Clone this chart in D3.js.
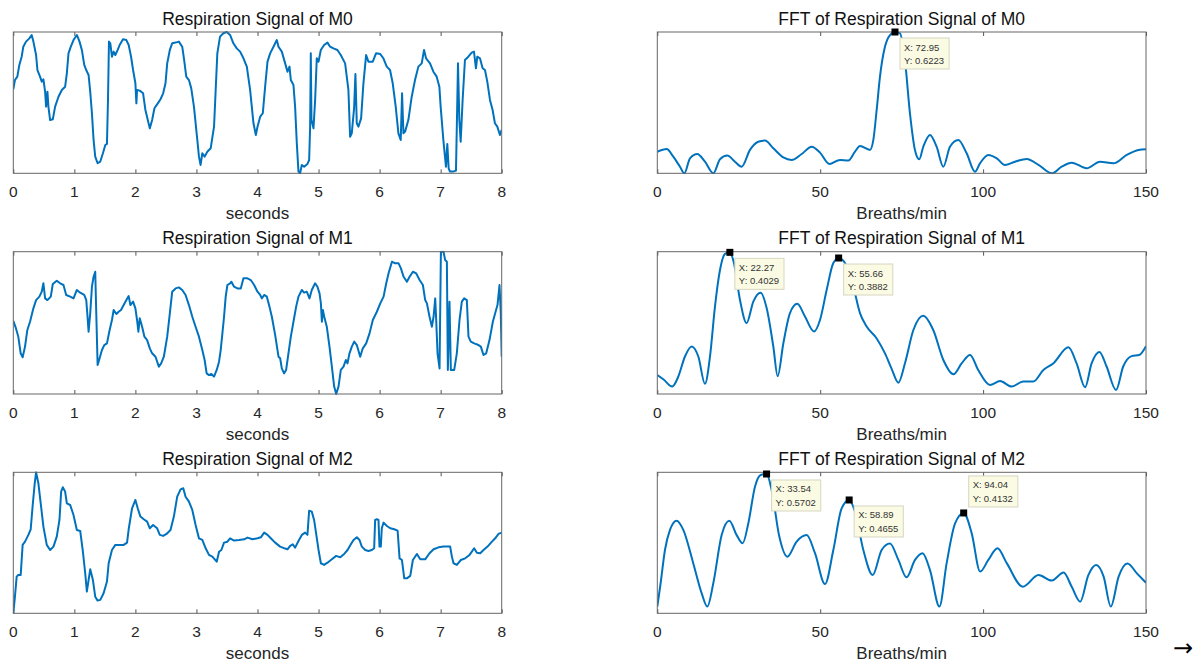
<!DOCTYPE html>
<html>
<head>
<meta charset="utf-8">
<script src="https://cdn.jsdelivr.net/npm/d3@7"></script>
<style>
body { margin: 0; background: #fff; }
text { font-family: "Liberation Sans", Arial, sans-serif; }
</style>
</head>
<body>
<script>
// respiration signals, [seconds, normalised amplitude]
const m0Signal = [[0,0.594],[0.027,0.66],[0.066,0.684],[0.099,0.767],[0.137,0.825],[0.164,0.896],[0.208,0.932],[0.263,0.955],[0.301,0.979],[0.329,0.932],[0.373,0.837],[0.395,0.731],[0.438,0.684],[0.466,0.649],[0.493,0.665],[0.521,0.578],[0.537,0.472],[0.559,0.578],[0.575,0.472],[0.603,0.377],[0.647,0.382],[0.685,0.472],[0.74,0.542],[0.795,0.59],[0.849,0.613],[0.877,0.708],[0.904,0.849],[0.942,0.896],[0.986,0.943],[1.041,0.979],[1.085,0.932],[1.123,0.873],[1.162,0.767],[1.194,0.731],[1.233,0.696],[1.26,0.578],[1.288,0.425],[1.315,0.236],[1.342,0.118],[1.381,0.071],[1.425,0.083],[1.468,0.142],[1.507,0.2],[1.534,0.208],[1.551,0.519],[1.567,0.932],[1.589,0.92],[1.616,0.825],[1.644,0.861],[1.671,0.837],[1.71,0.873],[1.742,0.908],[1.797,0.948],[1.852,0.943],[1.89,0.908],[1.929,0.825],[1.962,0.731],[2.0,0.637],[2.016,0.495],[2.027,0.59],[2.071,0.585],[2.126,0.566],[2.164,0.448],[2.203,0.377],[2.236,0.318],[2.274,0.377],[2.312,0.46],[2.367,0.495],[2.411,0.524],[2.455,0.566],[2.493,0.637],[2.521,0.778],[2.564,0.873],[2.603,0.92],[2.658,0.925],[2.712,0.932],[2.767,0.896],[2.795,0.814],[2.833,0.684],[2.877,0.66],[2.915,0.601],[2.959,0.472],[3.014,0.236],[3.041,0.118],[3.068,0.059],[3.096,0.142],[3.134,0.118],[3.178,0.153],[3.233,0.177],[3.288,0.33],[3.315,0.59],[3.342,0.849],[3.386,0.967],[3.441,0.991],[3.496,1.0],[3.551,0.979],[3.605,0.92],[3.66,0.884],[3.715,0.861],[3.77,0.814],[3.825,0.755],[3.879,0.59],[3.934,0.354],[3.973,0.271],[4.0,0.33],[4.044,0.401],[4.087,0.425],[4.125,0.613],[4.164,0.79],[4.207,0.849],[4.262,0.896],[4.316,0.943],[4.344,0.896],[4.398,0.861],[4.453,0.778],[4.491,0.719],[4.524,0.755],[4.546,0.66],[4.589,0.625],[4.616,0.472],[4.644,0.212],[4.671,0.012],[4.698,0.0],[4.726,0.059],[4.764,0.047],[4.818,0.066],[4.846,0.094],[4.862,0.33],[4.873,0.849],[4.884,0.377],[4.917,0.318],[4.944,0.519],[4.971,0.814],[5.0,0.79],[5.037,0.873],[5.091,0.908],[5.146,0.925],[5.189,0.896],[5.244,0.884],[5.309,0.873],[5.364,0.837],[5.435,0.778],[5.489,0.59],[5.517,0.259],[5.544,0.283],[5.582,0.46],[5.604,0.703],[5.626,0.354],[5.653,0.33],[5.697,0.389],[5.735,0.637],[5.779,0.837],[5.817,0.79],[5.888,0.79],[5.942,0.849],[6.011,0.844],[6.062,0.814],[6.117,0.755],[6.171,0.731],[6.215,0.637],[6.264,0.472],[6.308,0.283],[6.346,0.236],[6.368,0.566],[6.39,0.283],[6.417,0.295],[6.471,0.377],[6.526,0.542],[6.58,0.66],[6.635,0.755],[6.69,0.778],[6.728,0.873],[6.761,0.814],[6.826,0.778],[6.881,0.719],[6.935,0.684],[6.979,0.613],[7.0,0.472],[7.044,0.236],[7.087,0.047],[7.109,0.208],[7.131,0.035],[7.153,0.012],[7.207,0.012],[7.251,0.019],[7.273,0.519],[7.284,0.778],[7.306,0.377],[7.328,0.224],[7.36,0.519],[7.398,0.802],[7.453,0.825],[7.508,0.854],[7.546,0.861],[7.578,0.743],[7.6,0.825],[7.644,0.814],[7.688,0.743],[7.726,0.731],[7.764,0.649],[7.808,0.519],[7.851,0.448],[7.889,0.354],[7.928,0.33],[7.971,0.271],[8.0,0.307]];

const m1Signal = [[0,0.515],[0.044,0.461],[0.082,0.403],[0.121,0.286],[0.153,0.258],[0.192,0.333],[0.23,0.45],[0.274,0.508],[0.329,0.602],[0.373,0.66],[0.427,0.684],[0.466,0.719],[0.493,0.778],[0.521,0.672],[0.559,0.66],[0.614,0.684],[0.647,0.773],[0.712,0.796],[0.767,0.778],[0.822,0.766],[0.866,0.696],[0.932,0.684],[0.986,0.672],[1.041,0.731],[1.096,0.712],[1.162,0.696],[1.195,0.66],[1.216,0.543],[1.233,0.438],[1.26,0.567],[1.288,0.754],[1.315,0.824],[1.342,0.859],[1.359,0.567],[1.381,0.204],[1.414,0.251],[1.452,0.309],[1.49,0.344],[1.534,0.356],[1.578,0.45],[1.616,0.52],[1.644,0.59],[1.688,0.562],[1.726,0.578],[1.764,0.59],[1.808,0.625],[1.852,0.66],[1.89,0.688],[1.918,0.625],[1.962,0.649],[2.0,0.602],[2.027,0.52],[2.049,0.438],[2.071,0.532],[2.11,0.473],[2.148,0.403],[2.192,0.379],[2.236,0.321],[2.274,0.286],[2.329,0.262],[2.384,0.192],[2.422,0.215],[2.466,0.262],[2.521,0.403],[2.564,0.567],[2.603,0.719],[2.658,0.742],[2.712,0.749],[2.767,0.731],[2.822,0.696],[2.877,0.625],[2.932,0.543],[2.986,0.473],[3.041,0.403],[3.096,0.309],[3.134,0.239],[3.167,0.145],[3.205,0.133],[3.244,0.141],[3.288,0.122],[3.332,0.169],[3.37,0.227],[3.397,0.309],[3.425,0.426],[3.452,0.543],[3.479,0.684],[3.507,0.766],[3.551,0.778],[3.573,0.789],[3.616,0.754],[3.671,0.742],[3.726,0.742],[3.77,0.813],[3.836,0.813],[3.89,0.801],[3.945,0.766],[4.0,0.719],[4.044,0.696],[4.071,0.672],[4.109,0.696],[4.153,0.684],[4.196,0.614],[4.235,0.543],[4.289,0.415],[4.344,0.262],[4.371,0.251],[4.398,0.18],[4.436,0.145],[4.469,0.169],[4.507,0.286],[4.546,0.403],[4.589,0.508],[4.633,0.614],[4.671,0.684],[4.726,0.731],[4.764,0.712],[4.807,0.719],[4.851,0.672],[4.889,0.731],[4.944,0.778],[4.982,0.754],[5.016,0.707],[5.038,0.637],[5.055,0.508],[5.071,0.59],[5.093,0.543],[5.135,0.473],[5.179,0.333],[5.218,0.192],[5.256,0.052],[5.289,0.0],[5.327,0.052],[5.365,0.169],[5.409,0.192],[5.447,0.239],[5.474,0.215],[5.507,0.286],[5.545,0.333],[5.584,0.368],[5.627,0.344],[5.682,0.262],[5.725,0.321],[5.78,0.356],[5.835,0.426],[5.889,0.52],[5.955,0.578],[6.011,0.637],[6.065,0.684],[6.109,0.778],[6.147,0.848],[6.202,0.93],[6.256,0.918],[6.311,0.918],[6.349,0.883],[6.393,0.824],[6.447,0.789],[6.491,0.824],[6.546,0.859],[6.6,0.848],[6.655,0.801],[6.709,0.766],[6.747,0.66],[6.775,0.637],[6.818,0.543],[6.857,0.473],[6.884,0.543],[6.911,0.672],[6.927,0.52],[6.949,0.286],[6.982,0.18],[7.004,1.0],[7.047,1.0],[7.074,0.941],[7.102,0.93],[7.118,0.169],[7.145,0.649],[7.167,0.169],[7.222,0.169],[7.265,0.286],[7.309,0.52],[7.347,0.649],[7.385,0.672],[7.429,0.66],[7.456,0.403],[7.494,0.368],[7.549,0.356],[7.62,0.344],[7.658,0.333],[7.702,0.274],[7.746,0.286],[7.8,0.379],[7.855,0.508],[7.893,0.567],[7.931,0.625],[7.964,0.766],[7.985,0.567],[8.0,0.262]];

const m2Signal = [[0,0.0],[0.027,0.118],[0.055,0.26],[0.082,0.272],[0.121,0.272],[0.153,0.485],[0.192,0.508],[0.247,0.556],[0.285,0.596],[0.318,0.768],[0.351,0.922],[0.373,1.0],[0.411,0.922],[0.449,0.78],[0.493,0.615],[0.548,0.485],[0.603,0.449],[0.658,0.473],[0.712,0.544],[0.756,0.662],[0.784,0.863],[0.811,0.894],[0.849,0.863],[0.877,0.78],[0.932,0.768],[0.986,0.697],[1.041,0.591],[1.096,0.584],[1.14,0.437],[1.178,0.284],[1.205,0.154],[1.233,0.236],[1.26,0.312],[1.304,0.236],[1.342,0.118],[1.381,0.09],[1.425,0.095],[1.479,0.142],[1.534,0.225],[1.562,0.355],[1.616,0.449],[1.671,0.485],[1.726,0.485],[1.808,0.485],[1.863,0.501],[1.89,0.596],[1.945,0.745],[2.0,0.804],[2.038,0.745],[2.082,0.686],[2.137,0.667],[2.192,0.65],[2.236,0.603],[2.29,0.626],[2.356,0.603],[2.4,0.556],[2.455,0.549],[2.51,0.563],[2.575,0.591],[2.63,0.686],[2.685,0.827],[2.74,0.879],[2.784,0.887],[2.822,0.827],[2.877,0.792],[2.932,0.733],[2.986,0.626],[3.041,0.532],[3.096,0.52],[3.151,0.461],[3.205,0.414],[3.26,0.402],[3.332,0.366],[3.37,0.437],[3.408,0.449],[3.452,0.501],[3.507,0.508],[3.551,0.532],[3.616,0.516],[3.699,0.52],[3.781,0.525],[3.836,0.537],[3.918,0.525],[4.0,0.532],[4.055,0.539],[4.109,0.572],[4.164,0.556],[4.218,0.532],[4.289,0.501],[4.371,0.473],[4.453,0.459],[4.491,0.454],[4.535,0.478],[4.578,0.489],[4.616,0.466],[4.671,0.513],[4.726,0.556],[4.78,0.572],[4.818,0.556],[4.846,0.728],[4.889,0.721],[4.927,0.662],[4.96,0.567],[5.0,0.449],[5.038,0.355],[5.091,0.343],[5.146,0.359],[5.218,0.383],[5.289,0.407],[5.355,0.397],[5.42,0.421],[5.475,0.449],[5.529,0.489],[5.573,0.52],[5.627,0.539],[5.671,0.52],[5.709,0.473],[5.764,0.449],[5.818,0.442],[5.873,0.449],[5.911,0.461],[5.927,0.662],[5.955,0.667],[5.982,0.662],[5.998,0.473],[6.02,0.473],[6.036,0.603],[6.065,0.643],[6.12,0.619],[6.175,0.603],[6.24,0.596],[6.295,0.586],[6.327,0.39],[6.366,0.378],[6.404,0.248],[6.447,0.248],[6.502,0.265],[6.545,0.378],[6.611,0.421],[6.666,0.383],[6.747,0.383],[6.818,0.426],[6.884,0.454],[6.966,0.468],[7.047,0.473],[7.156,0.473],[7.184,0.402],[7.211,0.355],[7.265,0.343],[7.331,0.378],[7.402,0.39],[7.473,0.414],[7.511,0.437],[7.549,0.461],[7.593,0.43],[7.648,0.426],[7.702,0.449],[7.768,0.473],[7.84,0.508],[7.893,0.532],[7.948,0.563],[8.0,0.572]];

// FFT magnitude, [breaths/min, |X|]
const m0Fft = [[0,0.095],[2.87,0.107],[4.91,0.073],[6.96,0.029],[8.29,0.0],[10.03,0.066],[12.28,0.085],[14.63,0.051],[17.19,0.0],[19.24,0.062],[21.49,0.078],[23.84,0.051],[25.89,0.029],[28.45,0.103],[31.0,0.139],[33.05,0.144],[35.61,0.11],[38.68,0.07],[41.24,0.059],[44.31,0.085],[47.39,0.117],[49.94,0.091],[52.8,0.041],[56.07,0.059],[58.63,0.056],[60.68,0.095],[62.21,0.12],[65.28,0.103],[66.31,0.147],[67.33,0.279],[68.35,0.426],[69.89,0.558],[71.42,0.609],[72.95,0.6223],[74.5,0.616],[76.0,0.499],[77.55,0.264],[79.08,0.103],[80.41,0.062],[81.64,0.117],[83.69,0.169],[85.73,0.117],[87.78,0.029],[89.83,0.117],[92.39,0.147],[94.95,0.088],[97.51,0.007],[99.04,0.044],[101.6,0.081],[104.2,0.066],[106.7,0.037],[109.8,0.051],[113.4,0.063],[117.0,0.037],[121.1,0.0],[124.1,0.029],[127.2,0.047],[131.8,0.022],[135.9,0.051],[140.0,0.044],[144.1,0.081],[147.7,0.103],[150,0.106]];

const m1Fft = [[0,0.084],[1.84,0.073],[4.6,0.054],[6.45,0.08],[8.49,0.132],[10.54,0.158],[12.59,0.132],[14.63,0.061],[16.17,0.132],[17.7,0.262],[19.24,0.357],[20.77,0.399],[22.27,0.4029],[23.53,0.375],[25.38,0.279],[27.42,0.219],[29.47,0.275],[31.72,0.298],[33.56,0.258],[35.61,0.158],[36.94,0.081],[38.68,0.166],[40.72,0.245],[42.98,0.269],[45.33,0.236],[48.09,0.197],[49.94,0.227],[51.98,0.305],[54.03,0.375],[55.66,0.3882],[57.6,0.375],[60.16,0.314],[62.21,0.245],[64.26,0.21],[67.33,0.179],[69.89,0.14],[71.93,0.1],[73.98,0.064],[76.0,0.114],[78.6,0.201],[81.6,0.238],[84.7,0.201],[87.8,0.123],[90.9,0.086],[93.4,0.114],[96.0,0.136],[98.5,0.097],[102.1,0.058],[105.2,0.068],[108.8,0.054],[112.3,0.067],[115.4,0.067],[118.5,0.097],[121.5,0.114],[126.2,0.156],[128.7,0.114],[131.3,0.052],[133.3,0.114],[135.7,0.144],[137.9,0.106],[140.8,0.045],[143.0,0.106],[145.6,0.133],[147.9,0.136],[150,0.159]];

const m2Fft = [[0,0.036],[1.02,0.13],[2.35,0.264],[3.89,0.345],[5.93,0.382],[7.98,0.345],[11.05,0.21],[13.61,0.09],[15.35,0.036],[17.19,0.13],[19.75,0.324],[22.1,0.382],[24.35,0.324],[26.19,0.291],[27.93,0.371],[29.98,0.519],[31.72,0.566],[33.54,0.5702],[35.1,0.506],[37.45,0.318],[39.9,0.237],[42.77,0.298],[45.84,0.324],[48.4,0.251],[51.47,0.127],[54.03,0.264],[56.58,0.432],[58.89,0.4655],[60.68,0.418],[63.24,0.264],[66.1,0.163],[68.86,0.264],[71.42,0.29],[74.0,0.224],[76.5,0.154],[79.1,0.224],[81.4,0.251],[83.7,0.183],[86.6,0.036],[88.8,0.21],[91.4,0.371],[94.04,0.4132],[96.5,0.331],[99.1,0.177],[101.6,0.224],[104.4,0.271],[107.3,0.21],[112.2,0.116],[117.0,0.163],[121.1,0.141],[124.7,0.173],[127.2,0.116],[129.8,0.056],[132.3,0.163],[134.7,0.204],[137.0,0.157],[139.2,0.036],[141.6,0.157],[144.3,0.21],[147.2,0.17],[150,0.132]];

const timeTicks = [0, 1, 2, 3, 4, 5, 6, 7, 8];
const freqTicks = [0, 50, 100, 150];
const fftRanges = [[0, 0.6223], [0.0345, 0.4046], [0.009, 0.577]];

// data tips: [x, y, where the box sits]
const m0Tips = [[72.95, 0.6223, "below"]];
const m1Tips = [[22.27, 0.4029, "below"], [55.66, 0.3882, "below"]];
const m2Tips = [[33.54, 0.5702, "below"], [58.89, 0.4655, "below"], [94.04, 0.4132, "above"]];

const signals = [m0Signal, m1Signal, m2Signal];
const ffts = [m0Fft, m1Fft, m2Fft];
const tips = [m0Tips, m1Tips, m2Tips];
const names = ["M0", "M1", "M2"];

const W = 1204, H = 664;
const rows = [[32, 173.3], [251.7, 394], [472.3, 613.3]];
const blue = "#0072BD";

const svg = d3.select("body").append("svg")
  .attr("width", W).attr("height", H);

function panel(i, xr, domain, ticks, data, yDomain, title, xlabel, curve, tipList) {
  const [top, bottom] = rows[i];
  const x = d3.scaleLinear().domain(domain).range(xr);
  const y = d3.scaleLinear().domain(yDomain).range([bottom, top]);
  const g = svg.append("g");

  const clipId = "clip" + i + (xr[0] > 600 ? "r" : "l");
  svg.append("clipPath").attr("id", clipId)
    .append("rect").attr("x", xr[0]).attr("y", top - 1)
    .attr("width", xr[1] - xr[0]).attr("height", bottom - top + 2);

  // ticks top and bottom, pointing in
  g.append("g").attr("transform", `translate(0,${bottom})`)
    .call(d3.axisTop(x).tickValues(ticks).tickSize(4).tickFormat(""))
    .call(a => a.select(".domain").remove())
    .selectAll("line").attr("stroke", "#555");
  g.append("g").attr("transform", `translate(0,${top})`)
    .call(d3.axisBottom(x).tickValues(ticks).tickSize(4).tickFormat(""))
    .call(a => a.select(".domain").remove())
    .selectAll("line").attr("stroke", "#555");

  // tick labels
  g.selectAll(".tl").data(ticks).enter().append("text")
    .attr("x", d => x(d)).attr("y", bottom + 23.5)
    .attr("text-anchor", "middle")
    .attr("font-size", 15.5).attr("fill", "#262626")
    .text(d => d);

  g.append("path")
    .datum(data)
    .attr("clip-path", `url(#${clipId})`)
    .attr("fill", "none").attr("stroke", blue).attr("stroke-width", 2)
    .attr("stroke-linejoin", "round")
    .attr("d", d3.line().x(d => x(d[0])).y(d => y(d[1])).curve(curve));

  g.append("rect")
    .attr("x", xr[0]).attr("y", top)
    .attr("width", xr[1] - xr[0]).attr("height", bottom - top)
    .attr("fill", "none").attr("stroke", "#666").attr("stroke-width", 1);

  g.append("text")
    .attr("x", (xr[0] + xr[1]) / 2).attr("y", top - 7.5)
    .attr("text-anchor", "middle").attr("font-size", 17.5).attr("fill", "#111")
    .text(title);
  g.append("text")
    .attr("x", (xr[0] + xr[1]) / 2).attr("y", bottom + 46)
    .attr("text-anchor", "middle").attr("font-size", 17).attr("fill", "#262626")
    .text(xlabel);

  (tipList || []).forEach(t => {
    const px = x(t[0]), py = y(t[1]);
    const tg = g.append("g");
    const box = tg.append("rect").attr("fill", "#fbfbe3").attr("stroke", "#d6d6c2").attr("stroke-width", 1);
    const bx = px + 5;
    const by = t[2] === "below" ? py + 6 : py - 37;
    const l1 = tg.append("text").attr("x", bx + 4).attr("y", by + 12.5)
      .attr("font-size", 9.5).attr("fill", "#333").text("X: " + t[0]);
    const l2 = tg.append("text").attr("x", bx + 4).attr("y", by + 26)
      .attr("font-size", 9.5).attr("fill", "#333").text("Y: " + t[1].toFixed(4));
    const w = Math.max(l1.node().getComputedTextLength(), l2.node().getComputedTextLength()) + 9;
    box.attr("x", bx).attr("y", by).attr("width", w).attr("height", 31);
    g.append("rect").attr("x", px - 3.5).attr("y", py - 3.5)
      .attr("width", 7).attr("height", 7).attr("fill", "#000");
  });
}

for (let i = 0; i < 3; i++) {
  panel(i, [13.3, 501.7], [0, 8], timeTicks, signals[i], [0, 1],
    "Respiration Signal of " + names[i], "seconds", d3.curveLinear, null);
  panel(i, [657.3, 1146], [0, 150], freqTicks, ffts[i], fftRanges[i],
    "FFT of Respiration Signal of " + names[i], "Breaths/min", d3.curveMonotoneX, tips[i]);
}

svg.append("text").attr("x", 1183).attr("y", 656)
  .attr("text-anchor", "middle").attr("font-size", 24).attr("fill", "#000")
  .style("font-family", "'DejaVu Sans', sans-serif")
  .text("→");
</script>
</body>
</html>
